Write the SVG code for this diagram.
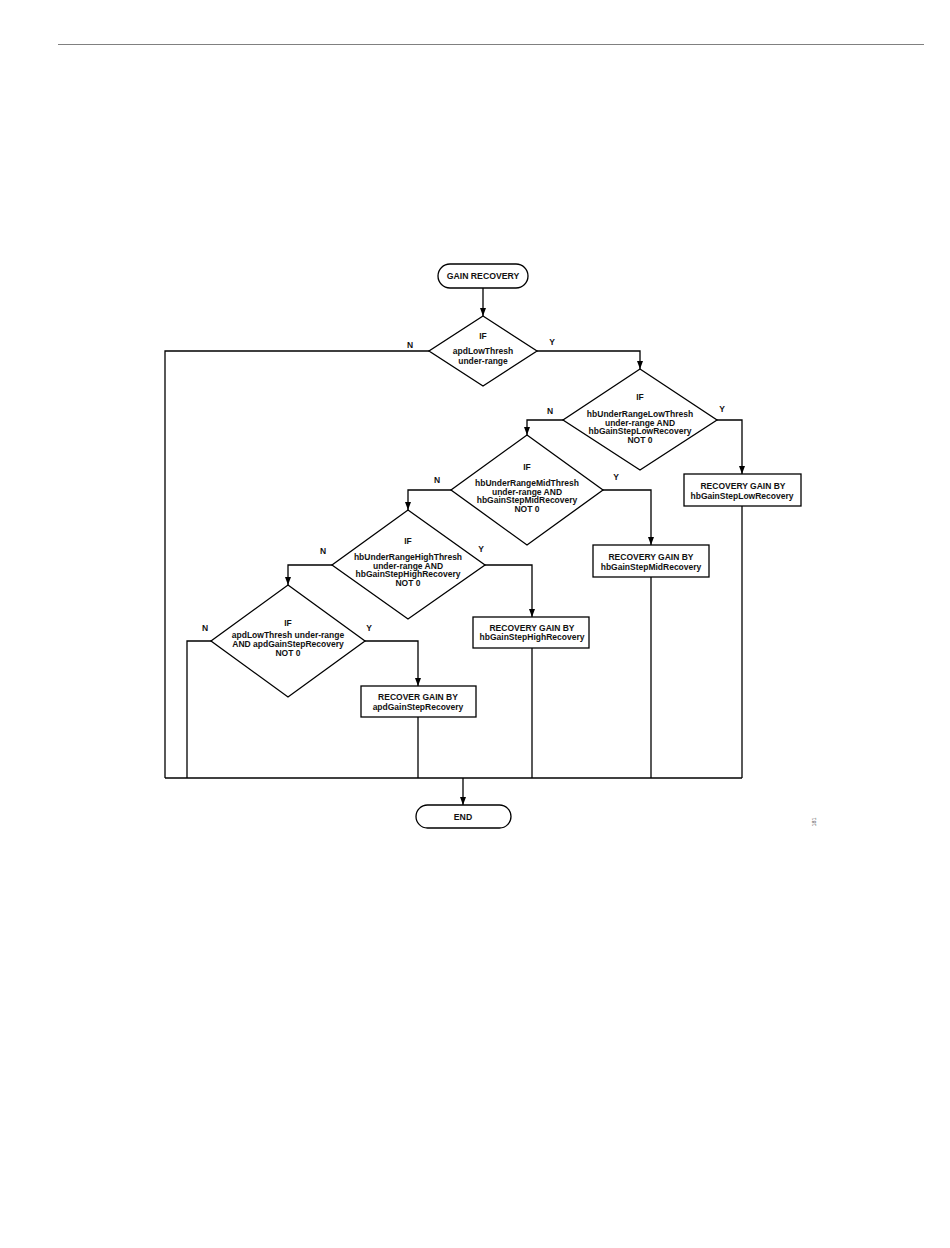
<svg xmlns="http://www.w3.org/2000/svg" width="950" height="1248" viewBox="0 0 950 1248">
<style>
.s{fill:#fff;stroke:#000;stroke-width:1.3}
.c{fill:none;stroke:#000;stroke-width:1.3}
text{font-family:"Liberation Sans",Arial,sans-serif;font-weight:bold;font-size:8.5px;fill:#111;text-anchor:middle}
.l{font-size:8.7px}
</style>
<defs>
<marker id="a" markerUnits="userSpaceOnUse" markerWidth="9" markerHeight="6" refX="8" refY="3" orient="auto">
<path d="M0,0 L8,3 L0,6 z" fill="#000"/>
</marker>
</defs>
<rect width="950" height="1248" fill="#fff"/>
<line x1="58" y1="44.5" x2="924" y2="44.5" stroke="#808080" stroke-width="1.2"/>
<g id="connectors">
<path class="c" d="M483,288 V316" marker-end="url(#a)"/>
<path class="c" d="M537,351 H640 V369" marker-end="url(#a)"/>
<path class="c" d="M429,351 H165 V778"/>
<path class="c" d="M717,420 H742 V474" marker-end="url(#a)"/>
<path class="c" d="M742,506 V778"/>
<path class="c" d="M563,420 H527 V435" marker-end="url(#a)"/>
<path class="c" d="M603,490 H651 V545" marker-end="url(#a)"/>
<path class="c" d="M651,577 V778"/>
<path class="c" d="M451,490 H408 V510" marker-end="url(#a)"/>
<path class="c" d="M485,565 H532 V617" marker-end="url(#a)"/>
<path class="c" d="M532,648 V778"/>
<path class="c" d="M332,565 H288 V585" marker-end="url(#a)"/>
<path class="c" d="M365,641 H418 V686" marker-end="url(#a)"/>
<path class="c" d="M418,717 V778"/>
<path class="c" d="M211,641 H187 V778"/>
<path class="c" d="M165,778 H742"/>
<path class="c" d="M463,778 V805" marker-end="url(#a)"/>
<text x="410" y="348">N</text>
<text x="552" y="345">Y</text>
<text x="550" y="414">N</text>
<text x="722" y="412">Y</text>
<text x="437" y="483">N</text>
<text x="616" y="480">Y</text>
<text x="323" y="554">N</text>
<text x="481" y="552">Y</text>
<text x="205" y="631">N</text>
<text x="369" y="631">Y</text>
</g>
<g id="start">
<rect class="s" x="438" y="264" width="90" height="24" rx="12"/>
<text class="l" x="483" y="279">GAIN RECOVERY</text>
</g>
<g id="d1">
<path class="s" d="M483,316 L537,351 L483,386 L429,351 z"/>
<text x="483" y="339">IF</text>
<text x="483" y="354">apdLowThresh</text>
<text x="483" y="364">under-range</text>
</g>
<g id="d2">
<path class="s" d="M640,369 L717,420 L640,470 L563,420 z"/>
<text x="640" y="400">IF</text>
<text x="640" y="417">hbUnderRangeLowThresh</text>
<text x="640" y="425.5">under-range AND</text>
<text x="640" y="434">hbGainStepLowRecovery</text>
<text x="640" y="442.5">NOT 0</text>
</g>
<g id="b1">
<rect class="s" x="684" y="474" width="117" height="32"/>
<text x="743" y="489">RECOVERY GAIN BY</text>
<text x="742" y="498.5">hbGainStepLowRecovery</text>
</g>
<g id="d3">
<path class="s" d="M527,435 L603,490 L527,545 L451,490 z"/>
<text x="527" y="470">IF</text>
<text x="527" y="486">hbUnderRangeMidThresh</text>
<text x="527" y="494.5">under-range AND</text>
<text x="527" y="503">hbGainStepMidRecovery</text>
<text x="527" y="511.5">NOT 0</text>
</g>
<g id="b2">
<rect class="s" x="593" y="545" width="116" height="32"/>
<text x="651" y="560">RECOVERY GAIN BY</text>
<text x="651" y="570">hbGainStepMidRecovery</text>
</g>
<g id="d4">
<path class="s" d="M408,510 L485,565 L408,619 L332,565 z"/>
<text x="408" y="544">IF</text>
<text x="408" y="560">hbUnderRangeHighThresh</text>
<text x="408" y="568.5">under-range AND</text>
<text x="408" y="577">hbGainStepHighRecovery</text>
<text x="408" y="585.5">NOT 0</text>
</g>
<g id="b3">
<rect class="s" x="473" y="617" width="116" height="31"/>
<text x="532" y="631">RECOVERY GAIN BY</text>
<text x="532" y="640">hbGainStepHighRecovery</text>
</g>
<g id="d5">
<path class="s" d="M288,585 L365,641 L288,697 L211,641 z"/>
<text x="288" y="626">IF</text>
<text x="288" y="638">apdLowThresh under-range</text>
<text x="288" y="647">AND apdGainStepRecovery</text>
<text x="288" y="656">NOT 0</text>
</g>
<g id="b4">
<rect class="s" x="361" y="686" width="115" height="31"/>
<text x="418" y="700">RECOVER GAIN BY</text>
<text x="418" y="710">apdGainStepRecovery</text>
</g>
<g id="end">
<rect class="s" x="416" y="805" width="95" height="23" rx="11.5"/>
<text class="l" x="463" y="820">END</text>
</g>
<text x="0" y="0" transform="translate(816,822) rotate(-90)" style="font-size:5.5px;font-weight:normal;fill:#555">181</text>
</svg>
